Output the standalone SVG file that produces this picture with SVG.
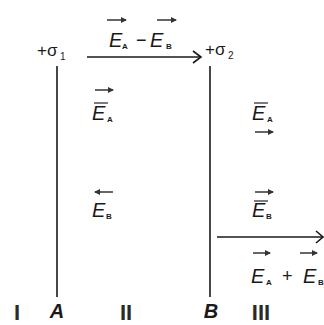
<svg xmlns="http://www.w3.org/2000/svg" width="324" height="325" viewBox="0 0 324 325">
<style>
.t{font-family:"Liberation Sans",Arial,sans-serif;fill:#1a1a1a}
.e{font-style:italic;font-size:20px}
.s{font-size:8px;font-weight:bold}
.sg{font-size:17px}
.lb{font-size:20px}
.rg{font-size:22px;font-weight:bold;fill:#2a2a2a}
.bi{font-weight:bold;font-style:italic}
.plate{stroke:#1a1a1a;stroke-width:1.6;fill:none}
.arr{stroke:#1a1a1a;stroke-width:1.6;fill:none}
.vec{stroke:#333;stroke-width:1.5;fill:none}
.bar{stroke:#333;stroke-width:1.3}
</style>
<defs>
<marker id="v" viewBox="0 0 6 6" refX="5" refY="3" markerWidth="6" markerHeight="6" markerUnits="userSpaceOnUse" orient="auto">
<path d="M0,0 L6,3 L0,6 Z" fill="#333"/>
</marker>
</defs>
<rect width="324" height="325" fill="#fff"/>

<g id="plateA">
<line class="plate" x1="57" y1="66" x2="57" y2="297"/>
<text class="t sg" x="37" y="56">+σ</text>
<text class="t" x="60" y="60" font-size="10">1</text>
<text class="t lb bi" x="57" y="318" text-anchor="middle">A</text>
</g>

<g id="plateB">
<line class="plate" x1="210" y1="66" x2="210" y2="297"/>
<text class="t sg" x="205" y="55">+σ</text>
<text class="t" x="228" y="59" font-size="10">2</text>
<text class="t lb bi" x="211" y="318" text-anchor="middle">B</text>
</g>

<g id="regions">
<text class="t rg" x="17" y="320" text-anchor="middle">I</text>
<text class="t rg" x="126" y="320" text-anchor="middle">II</text>
<text class="t rg" x="261" y="320" text-anchor="middle">III</text>
</g>

<g id="connectors">
<line class="arr" x1="87" y1="57" x2="201" y2="57"/>
<path class="arr" d="M193,51 L201,57 L193,63"/>
<line class="arr" x1="217" y1="237" x2="323" y2="237"/>
<path class="arr" d="M316,231 L323,237 L316,243"/>
</g>

<g id="fieldTop">
<line class="vec" x1="107" y1="20" x2="126" y2="20" marker-end="url(#v)"/>
<line class="vec" x1="157" y1="20" x2="176" y2="20" marker-end="url(#v)"/>
<text class="t e" x="109" y="47">E</text>
<text class="t s" x="122" y="49">A</text>
<text class="t" x="136" y="46" font-size="18">−</text>
<text class="t e" x="150" y="47">E</text>
<text class="t s" x="166" y="49">B</text>
</g>

<g id="fieldII_A">
<line class="vec" x1="95" y1="90" x2="113" y2="90" marker-end="url(#v)"/>
<line class="bar" x1="94" y1="103" x2="108" y2="103"/>
<text class="t e" x="92" y="120">E</text>
<text class="t s" x="107" y="122">A</text>
</g>

<g id="fieldIII_A">
<line class="bar" x1="254" y1="103" x2="268" y2="103"/>
<text class="t e" x="252" y="120">E</text>
<text class="t s" x="267" y="122">A</text>
<line class="vec" x1="255" y1="132" x2="273" y2="132" marker-end="url(#v)"/>
</g>

<g id="fieldII_B">
<line class="vec" x1="113" y1="192" x2="95" y2="192" marker-end="url(#v)"/>
<text class="t e" x="92" y="217">E</text>
<text class="t s" x="106" y="219">B</text>
</g>

<g id="fieldIII_B">
<line class="vec" x1="255" y1="192" x2="273" y2="192" marker-end="url(#v)"/>
<line class="bar" x1="254" y1="201" x2="268" y2="201"/>
<text class="t e" x="252" y="217">E</text>
<text class="t s" x="266" y="219">B</text>
</g>

<g id="fieldBottom">
<line class="vec" x1="253" y1="253" x2="270" y2="253" marker-end="url(#v)"/>
<line class="vec" x1="300" y1="253" x2="317" y2="253" marker-end="url(#v)"/>
<text class="t e" x="251" y="283">E</text>
<text class="t s" x="266" y="285">A</text>
<text class="t" x="282" y="282" font-size="18">+</text>
<text class="t e" x="303" y="283">E</text>
<text class="t s" x="318" y="285">B</text>
</g>
</svg>
